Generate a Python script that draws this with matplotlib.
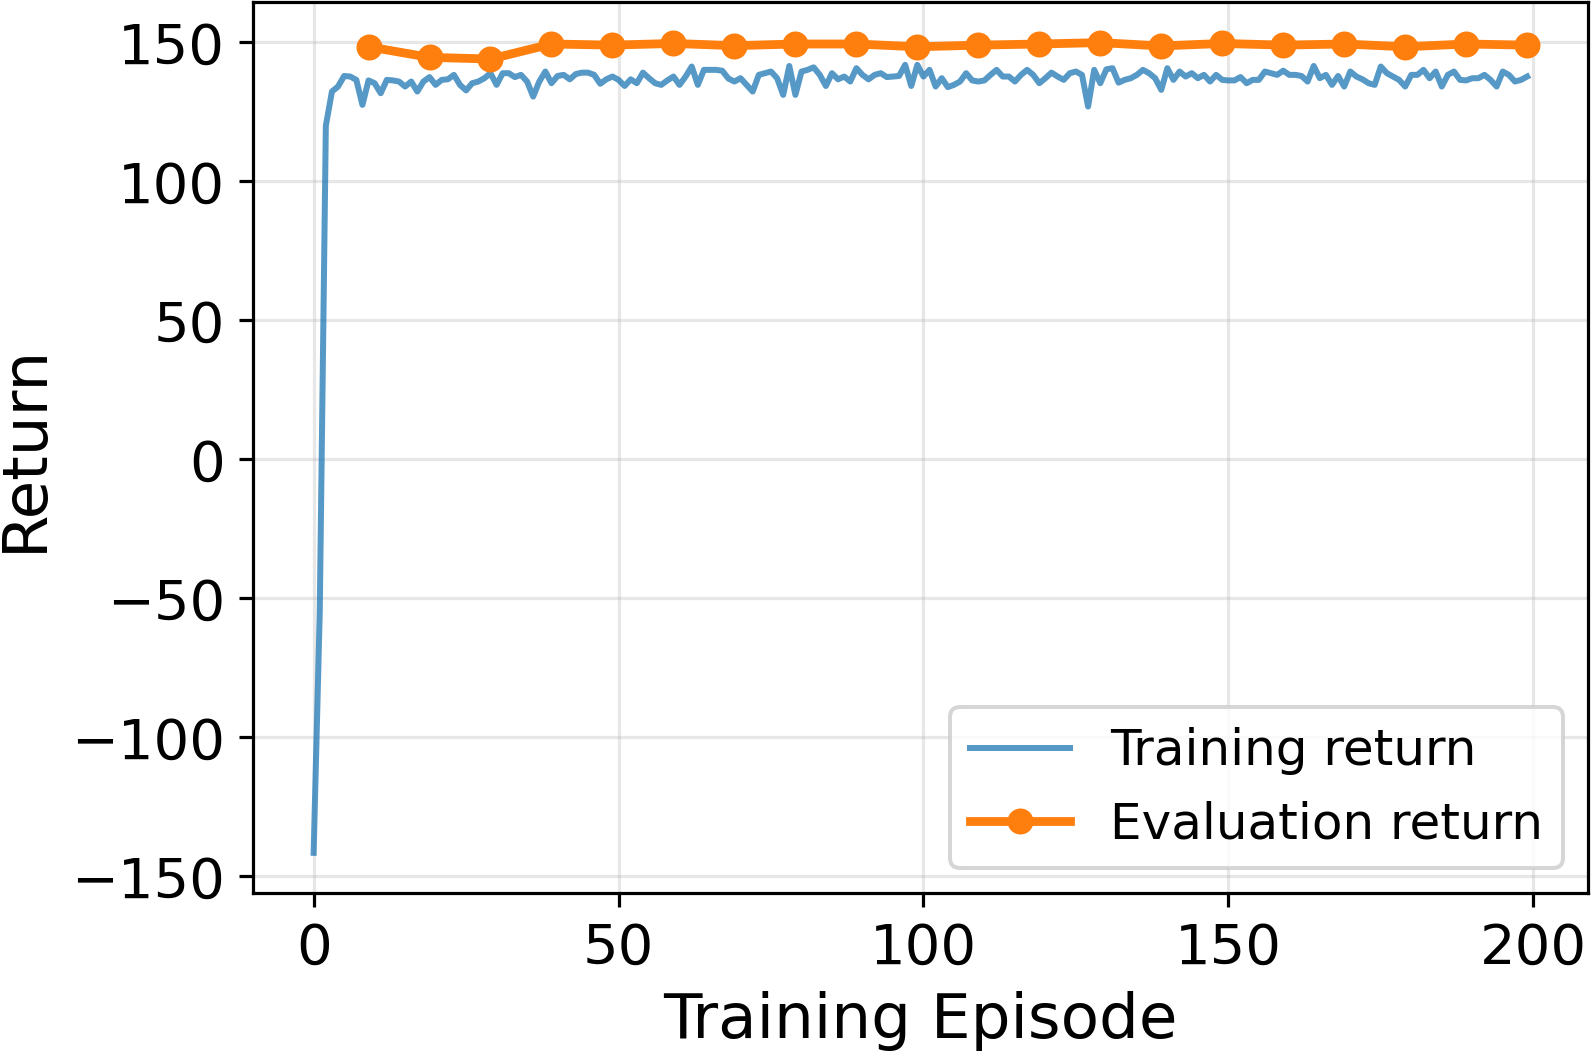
import numpy as np
import matplotlib
matplotlib.use("Agg")
import matplotlib.pyplot as plt

# training return per episode
train_returns = [
    -141.5, -55.0, 120.0, 132.3, 134.1, 137.9, 137.7, 136.5, 127.5, 136.3,
    135.3, 131.7, 136.5, 136.3, 135.9, 134.1, 135.9, 132.3, 135.9, 137.5,
    134.7, 136.5, 136.7, 138.3, 134.7, 132.7, 135.3, 135.9, 137.1, 138.9,
    134.7, 138.9, 138.9, 137.5, 138.3, 135.9, 130.5, 135.9, 139.5, 135.3,
    137.9, 138.3, 136.7, 138.6, 139.1, 139.1, 138.3, 135.1, 136.7, 137.7,
    136.5, 134.3, 136.7, 135.3, 139.1, 137.1, 135.3, 134.7, 136.3, 137.7,
    134.7, 137.7, 141.3, 134.7, 140.1, 140.1, 140.1, 139.8, 137.0, 135.9,
    137.1, 134.7, 132.3, 138.3, 138.9, 139.5, 137.1, 131.1, 141.5, 131.1,
    139.5, 140.1, 141.0, 138.3, 134.3, 138.9, 136.7, 137.7, 135.9, 140.7,
    138.3, 136.7, 138.3, 138.9, 137.5, 137.7, 137.9, 141.9, 134.3, 141.9,
    137.7, 140.1, 134.1, 137.1, 133.9, 134.7, 135.9, 138.9, 136.3, 135.9,
    136.3, 138.3, 140.1, 137.7, 137.7, 135.9, 138.3, 140.1, 138.3, 135.3,
    137.1, 139.1, 137.7, 136.5, 138.9, 139.5, 138.3, 126.9, 140.1, 135.3,
    140.3, 140.7, 135.5, 136.5, 137.1, 138.3, 140.1, 138.9, 137.1, 132.9,
    140.7, 136.5, 139.5, 137.7, 138.9, 137.1, 138.3, 135.9, 138.3, 136.5,
    136.3, 136.3, 137.5, 135.3, 136.5, 136.5, 139.5, 138.9, 138.3, 139.8,
    138.3, 138.3, 137.9, 135.9, 141.5, 137.1, 138.3, 134.7, 137.9, 134.1,
    139.5, 137.7, 136.7, 135.3, 134.7, 141.3, 138.9, 137.7, 136.5, 134.1,
    138.3, 138.3, 140.1, 137.1, 139.5, 134.1, 138.3, 139.5, 136.5, 136.3,
    137.1, 137.1, 138.3, 136.5, 134.1, 139.5, 138.3, 135.9, 136.5, 137.7,
]
train_episodes = list(range(len(train_returns)))

# evaluation every 10 episodes
eval_episodes = [9, 19, 29, 39, 49, 59, 69, 79, 89, 99,
                 109, 119, 129, 139, 149, 159, 169, 179, 189, 199]
eval_returns = [148.4, 144.6, 144.0, 149.4, 149.0, 149.6, 148.8, 149.4, 149.4, 148.4,
                149.0, 149.4, 149.9, 148.7, 149.6, 149.0, 149.4, 148.4, 149.4, 149.0]

plt.rcParams["font.size"] = 12.5
plt.rcParams["xtick.labelsize"] = 14
plt.rcParams["ytick.labelsize"] = 14

dpi = 288
fig, ax = plt.subplots(figsize=(1591 / dpi, 1051 / dpi), dpi=dpi)
fig.subplots_adjust(left=0.159, right=0.998, top=0.998, bottom=0.150)

ax.plot(train_episodes, train_returns, color="tab:blue", alpha=0.75, lw=1.5,
        label="Training return")
ax.plot(eval_episodes, eval_returns, color="tab:orange", lw=2.2, marker="o",
        markersize=5.5, label="Evaluation return")

ax.set_xlabel("Training Episode", fontsize=15.7)
ax.set_ylabel("Return", fontsize=15.7)
ax.set_xticks([0, 50, 100, 150, 200])
ax.set_yticks([-150, -100, -50, 0, 50, 100, 150])
ax.grid(True, alpha=0.3)
ax.legend(loc="lower right")

fig.savefig("out.png", dpi=dpi)
